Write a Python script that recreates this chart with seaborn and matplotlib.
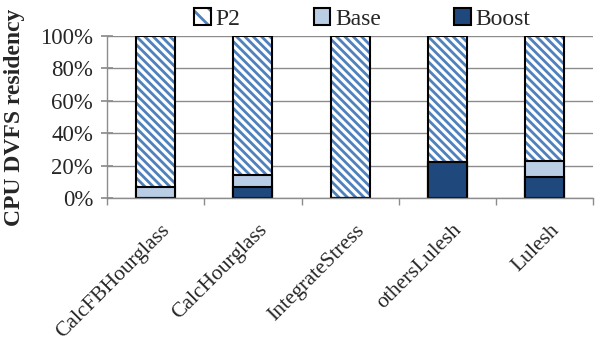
"""
CPU DVFS residency per kernel, stacked bars (Boost / Base / P2).
"""
import numpy as np
import pandas as pd
import matplotlib
matplotlib.use('Agg')
import matplotlib.pyplot as plt
import matplotlib.transforms as mtransforms
from matplotlib.patches import Patch
from matplotlib.ticker import FixedLocator, PercentFormatter
import seaborn as sns

kernels = ["CalcFBHourglass", "CalcHourglass", "IntegrateStress", "othersLulesh", "Lulesh"]
boost = [0, 7, 0, 22, 13]
base = [7, 7, 0, 0, 10]
p2 = [93, 86, 100, 78, 77]

BOOST_COLOR = "#1F497D"
BASE_COLOR = "#B9CDE5"
STRIPE_COLOR = "#4F81BD"
GRID_COLOR = "#8C8C8C"
HATCH = "\\\\\\\\"

sns.set_theme(style="white")
plt.rcParams['font.family'] = ['Liberation Serif', 'DejaVu Serif']
plt.rcParams['hatch.linewidth'] = 2.0

df = pd.DataFrame({"kernel": kernels, "boost": boost, "base": base, "p2": p2})
df["base_top"] = df["boost"] + df["base"]
df["p2_top"] = df["base_top"] + df["p2"]

fig = plt.figure(figsize=(5.95, 3.42), dpi=100)
ax = fig.add_axes([0.18, 0.421, 0.817, 0.474])

bw = 0.4
# P2 on top: hatched fill, then outline
sns.barplot(data=df, x="kernel", y="p2_top", ax=ax, width=bw, color="white",
            edgecolor=STRIPE_COLOR, linewidth=0, hatch=HATCH, saturation=1)
sns.barplot(data=df, x="kernel", y="p2_top", ax=ax, width=bw, fill=False,
            edgecolor="black", linewidth=1.5)
sns.barplot(data=df, x="kernel", y="base_top", ax=ax, width=bw, color=BASE_COLOR,
            edgecolor="black", linewidth=1.5, saturation=1)
sns.barplot(data=df, x="kernel", y="boost", ax=ax, width=bw, color=BOOST_COLOR,
            edgecolor="black", linewidth=1.5, saturation=1)

ax.set_ylim(0, 100)
ax.set_xlim(-0.5, len(kernels) - 0.5)
ax.yaxis.set_major_locator(FixedLocator([0, 20, 40, 60, 80, 100]))
ax.yaxis.set_major_formatter(PercentFormatter(decimals=0))
ax.grid(axis="y", color=GRID_COLOR, linewidth=1.0)
ax.set_axisbelow(True)

for side in ["top", "right"]:
    ax.spines[side].set_visible(False)
for side in ["left", "bottom"]:
    ax.spines[side].set_color(GRID_COLOR)
    ax.spines[side].set_linewidth(1.0)

ax.tick_params(axis="y", which="major", left=True, length=8, direction="inout",
               color=GRID_COLOR, labelsize=16.5, pad=6)
ax.tick_params(axis="x", which="major", bottom=False, labelsize=15.5, pad=1)
ax.xaxis.set_minor_locator(FixedLocator(np.arange(-0.5, len(kernels), 1.0)))
ax.tick_params(axis="x", which="minor", bottom=True, length=5, color=GRID_COLOR)

# rotated labels sit a little right of and below the category centre
shift = mtransforms.ScaledTranslation(0.05, -0.13, fig.dpi_scale_trans)
for lbl in ax.get_xticklabels():
    lbl.set_rotation(45)
    lbl.set_ha("right")
    lbl.set_rotation_mode("anchor")
    lbl.set_transform(lbl.get_transform() + shift)

ax.set_xlabel("")
ax.set_ylabel("CPU DVFS residency", fontsize=17, fontweight="bold")
ax.yaxis.set_label_coords(-0.168, 0.5)

handles = [
    (Patch(facecolor="white", edgecolor=STRIPE_COLOR, hatch="\\\\", linewidth=0),
     Patch(fill=False, edgecolor="black", linewidth=1.5)),
    Patch(facecolor=BASE_COLOR, edgecolor="black", linewidth=1.5),
    Patch(facecolor=BOOST_COLOR, edgecolor="black", linewidth=1.5),
]
leg = ax.legend(handles, ["P2", "Base", "Boost"], ncol=3, frameon=False,
                loc="lower center", bbox_to_anchor=(0.525, 0.98), fontsize=17,
                handlelength=0.7, handleheight=0.7, handletextpad=0.2,
                columnspacing=3.1, borderaxespad=0)

fig.savefig("out.png", dpi=100)
plt.close(fig)
